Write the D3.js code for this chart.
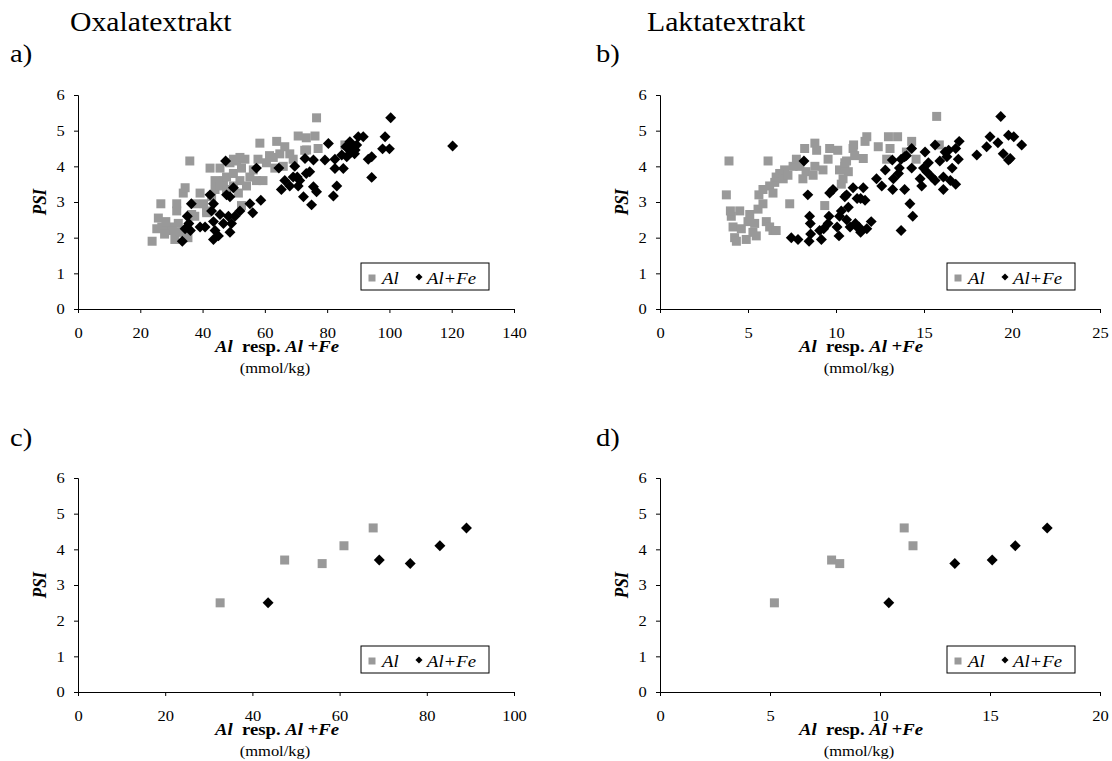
<!DOCTYPE html>
<html>
<head>
<meta charset="utf-8">
<script src="https://cdn.jsdelivr.net/npm/d3@7"></script>
<style>
  body { margin: 0; background: #fff; }
  svg { display: block; font-family: "Liberation Serif", "Times New Roman", serif; }
</style>
</head>
<body>
<div id="chart"></div>
<script>
// tick labels
const psiTicks = [0, 1, 2, 3, 4, 5, 6]
const oxalatTicks = [0, 20, 40, 60, 80, 100, 120, 140]
const laktatTicks = [0, 5, 10, 15, 20, 25]
const oxalatSubTicks = [0, 20, 40, 60, 80, 100]
const laktatSubTicks = [0, 5, 10, 15, 20]

// a) Oxalatextrakt, [mmol/kg, PSI]
const oxalatAl = [
  [23.8,1.9],[26.6,2.95],[25.8,2.55],[25.3,2.25],[26.9,2.3],[29.5,2.3],[31.1,1.95],[31.7,2.95],
  [31.7,2.75],[32.2,2.4],[33.8,3.25],[34.4,3.4],[35.9,4.15],[35.3,2.0],[34.4,2.2],[32.8,2.15],
  [37.5,2.6],[39.2,3.25],[40.3,2.95],[41.3,2.75],[42.4,3.95],[44.0,3.35],[44.0,3.6],[45.6,3.95],
  [46.7,3.6],[47.7,3.7],[48.8,4.1],[49.9,3.8],[50.9,4.15],[52.0,3.6],[52.5,3.95],[53.6,4.2],
  [54.1,3.45],[55.2,3.7],[56.3,3.9],[57.3,3.6],[57.8,4.2],[59.4,3.6],[58.4,4.65],[52.0,4.25],
  [49.9,4.2],[51.5,3.25],[52.5,2.9],[41.3,2.7],[36.5,2.65],[37.5,2.95],[49.9,3.45],[45.6,3.45],
  [42.9,3.15],[47.7,3.35],[62.7,4.25],[63.8,4.7],[64.8,4.35],[66.4,4.55],[68.0,4.35],[63.2,3.95],
  [65.9,4.0],[69.1,4.2],[70.7,4.85],[72.8,4.45],[73.3,4.8],[76.6,5.36],[76.1,4.85],[73.4,4.46],
  [77.1,4.5],[85.7,4.6],[28.2,2.45],[30.3,2.2],[27.8,2.1],[60.5,4.1],[61.5,4.3]
]
const oxalatAlFe = [
  [33.5,1.9],[34.4,2.25],[35.1,2.6],[35.6,2.4],[36.1,2.2],[36.4,2.95],[39.2,2.3],[40.8,2.3],
  [42.4,3.2],[42.9,2.75],[43.5,2.95],[43.5,2.45],[44.0,2.2],[43.5,1.95],[45.1,2.05],[45.6,2.65],
  [46.7,2.4],[47.4,4.15],[47.7,3.2],[48.8,3.15],[49.9,3.4],[48.3,2.6],[49.3,2.4],[48.8,2.15],
  [50.4,2.6],[52.0,2.75],[55.2,2.95],[56.1,2.7],[57.3,3.95],[58.7,3.05],[64.5,3.95],[65.3,3.35],
  [66.4,3.6],[68.0,3.45],[69.1,3.7],[69.6,4.0],[70.4,3.7],[70.7,3.45],[71.2,3.6],[73.3,3.8],
  [74.4,3.85],[72.9,4.22],[75.6,4.18],[75.6,3.43],[76.6,3.29],[72.4,3.15],[75.0,2.92],[80.4,4.64],
  [79.3,4.18],[82.5,4.2],[82.5,3.94],[83.1,3.45],[82.0,3.17],[85.2,3.94],[84.7,4.32],[86.3,4.27],
  [87.3,4.69],[88.4,4.55],[89.0,4.46],[90.0,4.83],[91.6,4.83],[93.2,4.2],[94.3,4.27],[94.3,3.69],
  [98.6,4.83],[97.8,4.49],[100.0,4.49],[100.4,5.36],[120.3,4.57],[86.8,4.5],[87.8,4.4],[88.8,4.35],
  [89.5,4.6],[86.0,4.55]
]

// b) Laktatextrakt
const laktatAl = [
  [3.92,4.15],[3.77,3.2],[4.05,2.6],[4.0,2.75],[4.24,2.0],[4.34,1.9],[4.15,2.3],[4.53,2.75],
  [4.62,2.25],[4.9,1.95],[5.0,2.45],[5.1,2.65],[5.28,2.15],[5.38,2.4],[5.47,2.05],[5.57,2.8],
  [5.62,3.2],[5.85,3.35],[5.85,2.95],[6.14,4.15],[6.04,2.45],[6.23,2.3],[6.42,2.2],[6.6,2.2],
  [6.23,3.45],[6.42,3.25],[6.52,3.55],[6.6,3.7],[6.8,3.8],[7.0,3.65],[7.08,3.9],[7.27,3.75],
  [7.37,2.95],[7.56,4.0],[7.75,4.2],[7.94,4.0],[8.22,4.5],[8.12,3.65],[8.3,3.85],[8.7,3.75],
  [8.8,4.65],[8.9,4.45],[8.8,4.0],[9.36,2.9],[9.26,3.9],[9.55,4.2],[9.64,4.5],[10.1,4.45],
  [10.2,3.9],[10.3,3.5],[10.5,4.0],[10.6,4.15],[10.97,4.5],[11.06,4.3],[11.0,4.6],[10.5,4.1],
  [10.7,3.85],[10.4,3.65],[11.55,4.22],[11.75,4.83],[11.65,4.7],[12.4,4.55],[12.98,4.83],
  [13.5,4.83],[13.07,4.5],[12.88,4.2],[14.3,4.7],[14.55,4.2],[15.72,5.4],[15.87,4.6],[14.0,4.4]
]
const laktatAlFe = [
  [8.18,4.15],[8.4,3.2],[7.46,2.0],[7.84,1.95],[8.5,2.6],[8.54,2.4],[8.47,1.9],[8.56,2.1],
  [9.07,2.2],[9.17,1.95],[9.3,2.25],[9.55,2.4],[9.64,3.25],[9.83,3.35],[9.6,2.6],[10.06,2.3],
  [10.17,2.05],[10.2,2.6],[10.3,2.75],[10.6,3.2],[10.7,2.85],[10.6,2.5],[10.8,2.3],[11.2,2.3],
  [10.97,3.4],[10.5,3.15],[11.1,2.4],[11.3,2.3],[11.4,2.15],[11.75,2.25],[12.0,2.45],[11.55,3.4],
  [11.4,3.1],[11.65,3.05],[11.2,3.1],[12.3,3.65],[12.6,3.45],[12.8,3.9],[13.2,4.18],[13.26,3.65],
  [13.22,3.35],[13.55,3.8],[13.6,3.95],[13.7,4.2],[13.9,4.27],[13.9,3.35],[14.0,4.3],[14.2,2.95],
  [14.36,2.6],[13.7,2.2],[14.3,4.5],[14.3,3.95],[14.78,3.65],[14.87,3.45],[14.97,3.95],[15.06,4.4],
  [15.15,3.85],[15.25,4.1],[15.44,3.7],[15.63,3.6],[15.63,4.6],[15.9,4.15],[16.1,3.35],[16.2,4.4],
  [16.1,3.7],[16.3,4.27],[16.4,4.45],[16.5,3.6],[16.6,3.95],[16.8,3.5],[16.8,4.5],[16.95,4.2],
  [17.0,4.7],[18.0,4.32],[18.56,4.55],[18.75,4.83],[19.2,4.66],[19.36,5.4],[19.8,4.87],[20.1,4.83],
  [19.5,4.35],[19.8,4.18],[19.9,4.22],[20.55,4.6]
]

// c) and d) subset
const oxalatAlSub = [[32.6,2.5],[47.4,3.7],[56.0,3.6],[61.0,4.1],[67.7,4.6]]
const oxalatAlFeSub = [[43.6,2.5],[69.1,3.7],[76.2,3.6],[83.0,4.1],[89.1,4.6]]
const laktatAlSub = [[5.2,2.5],[7.8,3.7],[8.17,3.6],[11.1,4.6],[11.5,4.1]]
const laktatAlFeSub = [[10.4,2.5],[13.4,3.6],[15.1,3.7],[16.15,4.1],[17.6,4.6]]

const panels = [
  {tag: "a)", tagX: 10, tagY: 62, left: 78, right: 514, top: 95, bottom: 309, ticks: oxalatTicks, al: oxalatAl, alfe: oxalatAlFe},
  {tag: "b)", tagX: 596, tagY: 62, left: 660, right: 1100, top: 95, bottom: 309, ticks: laktatTicks, al: laktatAl, alfe: laktatAlFe},
  {tag: "c)", tagX: 10, tagY: 446, left: 78, right: 514, top: 478, bottom: 692, ticks: oxalatSubTicks, al: oxalatAlSub, alfe: oxalatAlFeSub},
  {tag: "d)", tagX: 596, tagY: 446, left: 660, right: 1100, top: 478, bottom: 692, ticks: laktatSubTicks, al: laktatAlSub, alfe: laktatAlFeSub}
]

const SX = 1.1   // the picture is a bit wider than tall
const grey = "#999999"

const svg = d3.select("#chart").append("svg")
  .attr("width", 1112)
  .attr("height", 761)

function label(parent, x, y, size, anchor = "start") {
  return parent.append("text")
    .attr("transform", `translate(${x},${y}) scale(${SX},1)`)
    .attr("font-size", size)
    .attr("text-anchor", anchor)
    .attr("fill", "#000")
}

label(svg, 70, 31, 27).text("Oxalatextrakt")
label(svg, 647, 31, 27).text("Laktatextrakt")

const square = d3.symbol(d3.symbolSquare)
const diamond = d3.symbol(d3.symbolSquare)

function drawPanel(p) {
  const g = svg.append("g")
  const x = d3.scaleLinear([0, d3.max(p.ticks)], [p.left, p.right])
  const y = d3.scaleLinear([0, 6], [p.bottom, p.top])

  label(g, p.tagX, p.tagY, 26).text(p.tag)

  // points
  g.append("g")
    .selectAll("path")
    .data(p.al)
    .join("path")
      .attr("transform", d => `translate(${x(d[0])},${y(d[1])})`)
      .attr("d", square.size(81))
      .attr("fill", grey)

  g.append("g")
    .selectAll("path")
    .data(p.alfe)
    .join("path")
      .attr("transform", d => `translate(${x(d[0])},${y(d[1])}) rotate(45)`)
      .attr("d", diamond.size(60))
      .attr("fill", "#000")

  // axes
  g.append("g")
    .attr("transform", `translate(0,${p.bottom})`)
    .call(d3.axisBottom(x).tickValues(p.ticks).tickSize(4).tickPadding(14).tickFormat(d3.format("d")))
    .call(a => a.attr("font-size", 15).attr("font-family", null))
    .call(a => a.selectAll(".tick text").attr("transform", `scale(${SX},1)`).attr("fill", "#000"))
    .call(a => a.selectAll("line, path").attr("stroke", "#000"))

  g.append("g")
    .attr("transform", `translate(${p.left},0)`)
    .call(d3.axisLeft(y).tickValues(psiTicks).tickSize(4).tickPadding(8).tickFormat(d3.format("d")))
    .call(a => a.attr("font-size", 15).attr("font-family", null))
    .call(a => a.selectAll(".tick text").attr("transform", `scale(${SX},1)`).attr("fill", "#000"))
    .call(a => a.selectAll("line, path").attr("stroke", "#000"))

  // axis titles
  const mid = (p.left + p.right) / 2
  const xt = label(g, mid - 19, p.bottom + 43, 17, "middle")
    .attr("font-weight", "bold")
    .style("white-space", "pre")
  xt.append("tspan").attr("font-style", "italic").text("Al")
  xt.append("tspan").text("  resp. ")
  xt.append("tspan").attr("font-style", "italic").text("Al +Fe")

  label(g, mid - 21, p.bottom + 64, 15, "middle").text("(mmol/kg)")

  g.append("text")
    .attr("transform", `translate(${p.left - 32},${(p.top + p.bottom) / 2}) scale(${SX},1) rotate(-90)`)
    .attr("text-anchor", "middle")
    .attr("font-size", 17)
    .attr("font-weight", "bold")
    .attr("font-style", "italic")
    .text("PSI")

  // legend
  const lx = p.right - 153, ly = p.bottom - 46
  const leg = g.append("g").attr("transform", `translate(${lx},${ly})`)
  leg.append("rect")
    .attr("width", 128).attr("height", 27)
    .attr("fill", "#fff").attr("stroke", "#000")
  leg.append("path")
    .attr("transform", "translate(11,15)")
    .attr("d", square.size(49))
    .attr("fill", grey)
  label(leg, 21, 21, 17).attr("font-style", "italic").text("Al")
  leg.append("path")
    .attr("transform", "translate(58,14) rotate(45)")
    .attr("d", diamond.size(25))
    .attr("fill", "#000")
  label(leg, 66, 21, 17).attr("font-style", "italic").text("Al+Fe")
}

panels.forEach(drawPanel)
</script>
</body>
</html>
